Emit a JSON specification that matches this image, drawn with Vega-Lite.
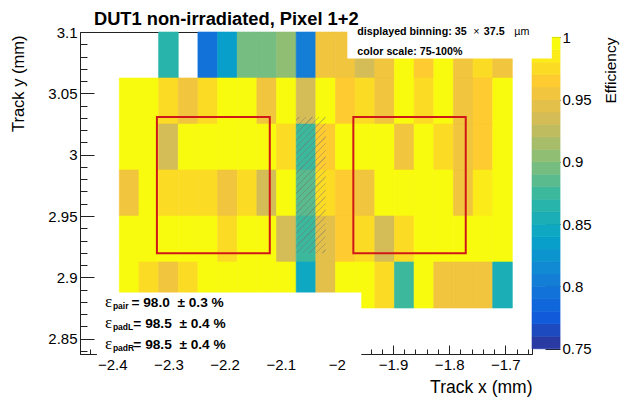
{
  "$schema": "https://vega.github.io/schema/vega-lite/v6.json",
  "width": 452,
  "height": 322,
  "autosize": {"type": "none"},
  "padding": {"left": 80, "top": 32, "right": 90, "bottom": 43},
  "background": "#ffffff",
  "config": {
    "view": {"stroke": "#222222", "strokeWidth": 1},
    "axis": {"grid": false, "labelFont": "Liberation Sans", "titleFont": "Liberation Sans", "labelColor": "#000000", "titleColor": "#000000", "tickColor": "#222222", "domainColor": "#222222", "titleFontWeight": "normal", "labelFlush": false, "labelOverlap": false}
  },
  "data": {"values": [{}]},
  "datasets": {
    "cells": [
      {"y0": 3.0625, "y1": 3.1,
       "x0": [-2.3875,-2.3525,-2.3175,-2.2825,-2.2475,-2.2125,-2.1775,-2.1425,-2.1075,-2.0725,-2.0375,-2.0025,-1.9675,-1.9325,-1.8975,-1.8625,-1.8275,-1.7925,-1.7575,-1.7225],
       "x1": [-2.3525,-2.3175,-2.2825,-2.2475,-2.2125,-2.1775,-2.1425,-2.1075,-2.0725,-2.0375,-2.0025,-1.9675,-1.9325,-1.8975,-1.8625,-1.8275,-1.7925,-1.7575,-1.7225,-1.6875],
       "e": [null, null, 0.868, null, 0.795, 0.838, 0.895, 0.893, 0.905, 0.803, 0.958, 0.958, 0.935, 0.958, 0.995, 0.965, 0.995, 0.958, 0.978, 0.952]},
      {"y0": 3.025, "y1": 3.0625,
       "x0": [-2.3875,-2.3525,-2.3175,-2.2825,-2.2475,-2.2125,-2.1775,-2.1425,-2.1075,-2.0725,-2.0375,-2.0025,-1.9675,-1.9325,-1.8975,-1.8625,-1.8275,-1.7925,-1.7575,-1.7225],
       "x1": [-2.3525,-2.3175,-2.2825,-2.2475,-2.2125,-2.1775,-2.1425,-2.1075,-2.0725,-2.0375,-2.0025,-1.9675,-1.9325,-1.8975,-1.8625,-1.8275,-1.7925,-1.7575,-1.7225,-1.6875],
       "e": [0.995, 0.995, 0.975, 0.958, 0.978, 0.995, 0.995, 0.958, 0.995, 0.935, 0.995, 0.962, 0.975, 0.958, 0.995, 0.978, 0.995, 0.958, 0.965, 0.995]},
      {"y0": 2.9875, "y1": 3.025,
       "x0": [-2.3875,-2.3525,-2.3175,-2.2825,-2.2475,-2.2125,-2.1775,-2.1425,-2.1075,-2.0725,-2.0375,-2.0025,-1.9675,-1.9325,-1.8975,-1.8625,-1.8275,-1.7925,-1.7575,-1.7225],
       "x1": [-2.3525,-2.3175,-2.2825,-2.2475,-2.2125,-2.1775,-2.1425,-2.1075,-2.0725,-2.0375,-2.0025,-1.9675,-1.9325,-1.8975,-1.8625,-1.8275,-1.7925,-1.7575,-1.7225,-1.6875],
       "e": [0.995, 0.995, 0.935, 0.995, 0.995, 0.995, 0.995, 0.995, 0.978, 0.876, 0.962, 0.995, 0.995, 0.995, 0.958, 0.995, 0.978, 0.958, 0.962, 0.995]},
      {"y0": 2.95, "y1": 2.9875,
       "x0": [-2.3875,-2.3525,-2.3175,-2.2825,-2.2475,-2.2125,-2.1775,-2.1425,-2.1075,-2.0725,-2.0375,-2.0025,-1.9675,-1.9325,-1.8975,-1.8625,-1.8275,-1.7925,-1.7575,-1.7225],
       "x1": [-2.3525,-2.3175,-2.2825,-2.2475,-2.2125,-2.1775,-2.1425,-2.1075,-2.0725,-2.0375,-2.0025,-1.9675,-1.9325,-1.8975,-1.8625,-1.8275,-1.7925,-1.7575,-1.7225,-1.6875],
       "e": [0.958, 0.995, 0.975, 0.975, 0.975, 0.958, 0.975, 0.935, 0.995, 0.882, 0.972, 0.962, 0.958, 0.995, 0.995, 0.995, 0.995, 0.958, 0.985, 0.995]},
      {"y0": 2.9125, "y1": 2.95,
       "x0": [-2.3875,-2.3525,-2.3175,-2.2825,-2.2475,-2.2125,-2.1775,-2.1425,-2.1075,-2.0725,-2.0375,-2.0025,-1.9675,-1.9325,-1.8975,-1.8625,-1.8275,-1.7925,-1.7575,-1.7225],
       "x1": [-2.3525,-2.3175,-2.2825,-2.2475,-2.2125,-2.1775,-2.1425,-2.1075,-2.0725,-2.0375,-2.0025,-1.9675,-1.9325,-1.8975,-1.8625,-1.8275,-1.7925,-1.7575,-1.7225,-1.6875],
       "e": [0.995, 0.995, 0.995, 0.995, 0.995, 0.978, 0.995, 0.995, 0.935, 0.876, 0.940, 0.962, 0.978, 0.935, 0.978, 0.995, 0.995, 0.995, 0.995, 0.995]},
      {"y0": 2.875, "y1": 2.9125,
       "x0": [-2.3875,-2.3525,-2.3175,-2.2825,-2.2475,-2.2125,-2.1775,-2.1425,-2.1075,-2.0725,-2.0375,-2.0025,-1.9675,-1.9325,-1.8975,-1.8625,-1.8275,-1.7925,-1.7575,-1.7225],
       "x1": [-2.3525,-2.3175,-2.2825,-2.2475,-2.2125,-2.1775,-2.1425,-2.1075,-2.0725,-2.0375,-2.0025,-1.9675,-1.9325,-1.8975,-1.8625,-1.8275,-1.7925,-1.7575,-1.7225,-1.6875],
       "e": [0.995, 0.978, 0.958, 0.978, 0.995, 0.995, 0.995, 0.995, 0.995, 0.845, 0.945, 0.995, 0.995, 0.978, 0.879, 0.995, 0.958, 0.958, 0.958, 0.855]}
    ],
    "pads": [
      {"pad": "left", "x0": -2.3205, "x1": -2.1195, "y0": 2.9197, "y1": 3.0308},
      {"pad": "right", "x0": -1.9707, "x1": -1.7705, "y0": 2.9197, "y1": 3.0308}
    ],
    "bar": [
      {"lo": 0.75, "hi": 0.76, "e": 0.755}, {"lo": 0.76, "hi": 0.77, "e": 0.765},
      {"lo": 0.77, "hi": 0.78, "e": 0.775}, {"lo": 0.78, "hi": 0.79, "e": 0.785},
      {"lo": 0.79, "hi": 0.80, "e": 0.795}, {"lo": 0.80, "hi": 0.81, "e": 0.805},
      {"lo": 0.81, "hi": 0.82, "e": 0.815}, {"lo": 0.82, "hi": 0.83, "e": 0.825},
      {"lo": 0.83, "hi": 0.84, "e": 0.835}, {"lo": 0.84, "hi": 0.85, "e": 0.845},
      {"lo": 0.85, "hi": 0.86, "e": 0.855}, {"lo": 0.86, "hi": 0.87, "e": 0.865},
      {"lo": 0.87, "hi": 0.88, "e": 0.875}, {"lo": 0.88, "hi": 0.89, "e": 0.885},
      {"lo": 0.89, "hi": 0.90, "e": 0.895}, {"lo": 0.90, "hi": 0.91, "e": 0.905},
      {"lo": 0.91, "hi": 0.92, "e": 0.915}, {"lo": 0.92, "hi": 0.93, "e": 0.925},
      {"lo": 0.93, "hi": 0.94, "e": 0.935}, {"lo": 0.94, "hi": 0.95, "e": 0.945},
      {"lo": 0.95, "hi": 0.96, "e": 0.955}, {"lo": 0.96, "hi": 0.97, "e": 0.965},
      {"lo": 0.97, "hi": 0.98, "e": 0.975}, {"lo": 0.98, "hi": 0.99, "e": 0.985},
      {"lo": 0.99, "hi": 1.0, "e": 0.995}
    ]
  },
  "layer": [
    {
      "layer": [
        {
          "data": {"name": "cells"},
          "transform": [{"flatten": ["x0", "x1", "e"]}, {"filter": "isValid(datum.e)"}],
          "mark": {"type": "rect", "strokeWidth": 0.6},
          "encoding": {
            "x": {"field": "x0", "type": "quantitative",
                  "scale": {"domain": [-2.4575, -1.6525], "nice": false, "zero": false},
                  "axis": {
                    "values": [-2.44,-2.42,-2.4,-2.38,-2.36,-2.34,-2.32,-2.3,-2.28,-2.26,-2.24,-2.22,-2.2,-2.18,-2.16,-2.14,-2.12,-2.1,-2.08,-2.06,-2.04,-2.02,-2,-1.98,-1.96,-1.94,-1.92,-1.9,-1.88,-1.86,-1.84,-1.82,-1.8,-1.78,-1.76,-1.74,-1.72,-1.7,-1.68,-1.66],
                    "tickCount": 200,
                    "format": "~g",
                    "labelOverlap": false,
                    "labelBound": false,
                    "labelExpr": "abs(round(datum.value*100)) % 10 === 0 ? datum.label : ''",
                    "labelFontSize": 15,
                    "tickSize": {"condition": {"test": "abs(round(datum.value*100)) % 10 === 0", "value": -9}, "value": -5},
                    "labelPadding": 12,
                    "title": "Track x (mm)",
                    "titleFontSize": 17.5,
                    "titleX": 452, "titleY": 33, "titleAlign": "right", "titleBaseline": "middle", "titleAngle": 0
                  }},
            "x2": {"field": "x1"},
            "y": {"field": "y0", "type": "quantitative",
                  "scale": {"domain": [2.8375, 3.1], "nice": false, "zero": false},
                  "axis": {
                    "orient": "left",
                    "values": [2.84,2.85,2.86,2.87,2.88,2.89,2.9,2.91,2.92,2.93,2.94,2.95,2.96,2.97,2.98,2.99,3,3.01,3.02,3.03,3.04,3.05,3.06,3.07,3.08,3.09,3.1],
                    "tickCount": 200,
                    "format": "~g",
                    "labelOverlap": false,
                    "labelBound": false,
                    "labelExpr": "round(datum.value*100) % 5 === 0 ? datum.label : ''",
                    "labelFontSize": 15,
                    "tickSize": {"condition": {"test": "round(datum.value*100) % 5 === 0", "value": -14}, "value": -7},
                    "labelPadding": 17,
                    "title": "Track y (mm)",
                    "titleFontSize": 16.5,
                    "titleAngle": -90, "titleX": -62, "titleY": 3, "titleAlign": "right", "titleBaseline": "middle"
                  }},
            "y2": {"field": "y1"},
            "color": {"field": "e", "type": "quantitative", "legend": null,
                      "scale": {"type": "quantize", "domain": [0.75, 1],
                                "range": ["#293aa3","#1d4abe","#115ada","#1066db","#1272d9","#147ed6","#1189d3","#0c94cf","#089fcb","#0ea8c2","#1baeb6","#28b4aa","#3cb89d","#59bb8e","#75bd80","#90be73","#a7bd6a","#bfbc60","#d4bc56","#e3c04a","#f1c53d","#fecb31","#fcdb25","#fbeb19","#f9fb0e"]}},
            "stroke": {"field": "e", "type": "quantitative", "legend": null,
                       "scale": {"type": "quantize", "domain": [0.75, 1],
                                 "range": ["#293aa3","#1d4abe","#115ada","#1066db","#1272d9","#147ed6","#1189d3","#0c94cf","#089fcb","#0ea8c2","#1baeb6","#28b4aa","#3cb89d","#59bb8e","#75bd80","#90be73","#a7bd6a","#bfbc60","#d4bc56","#e3c04a","#f1c53d","#fecb31","#fcdb25","#fbeb19","#f9fb0e"]}}
          }
        },
        {
          "mark": {"type": "rect",
                   "fill": {"gradient": "linear", "x1": 0, "y1": 0, "x2": 0.2551, "y2": 1.1633,
                            "stops": [
                              {"offset": 0, "color": "rgba(110,110,110,0)"},
                              {"offset": 0.015, "color": "rgba(110,110,110,0)"}, {"offset": 0.017, "color": "rgba(110,110,110,0.4)"}, {"offset": 0.023, "color": "rgba(110,110,110,0.4)"}, {"offset": 0.025, "color": "rgba(110,110,110,0)"},
                              {"offset": 0.055, "color": "rgba(110,110,110,0)"}, {"offset": 0.057, "color": "rgba(110,110,110,0.4)"}, {"offset": 0.063, "color": "rgba(110,110,110,0.4)"}, {"offset": 0.065, "color": "rgba(110,110,110,0)"},
                              {"offset": 0.095, "color": "rgba(110,110,110,0)"}, {"offset": 0.097, "color": "rgba(110,110,110,0.4)"}, {"offset": 0.103, "color": "rgba(110,110,110,0.4)"}, {"offset": 0.105, "color": "rgba(110,110,110,0)"},
                              {"offset": 0.135, "color": "rgba(110,110,110,0)"}, {"offset": 0.137, "color": "rgba(110,110,110,0.4)"}, {"offset": 0.143, "color": "rgba(110,110,110,0.4)"}, {"offset": 0.145, "color": "rgba(110,110,110,0)"},
                              {"offset": 0.175, "color": "rgba(110,110,110,0)"}, {"offset": 0.177, "color": "rgba(110,110,110,0.4)"}, {"offset": 0.183, "color": "rgba(110,110,110,0.4)"}, {"offset": 0.185, "color": "rgba(110,110,110,0)"},
                              {"offset": 0.215, "color": "rgba(110,110,110,0)"}, {"offset": 0.217, "color": "rgba(110,110,110,0.4)"}, {"offset": 0.223, "color": "rgba(110,110,110,0.4)"}, {"offset": 0.225, "color": "rgba(110,110,110,0)"},
                              {"offset": 0.255, "color": "rgba(110,110,110,0)"}, {"offset": 0.257, "color": "rgba(110,110,110,0.4)"}, {"offset": 0.263, "color": "rgba(110,110,110,0.4)"}, {"offset": 0.265, "color": "rgba(110,110,110,0)"},
                              {"offset": 0.295, "color": "rgba(110,110,110,0)"}, {"offset": 0.297, "color": "rgba(110,110,110,0.4)"}, {"offset": 0.303, "color": "rgba(110,110,110,0.4)"}, {"offset": 0.305, "color": "rgba(110,110,110,0)"},
                              {"offset": 0.335, "color": "rgba(110,110,110,0)"}, {"offset": 0.337, "color": "rgba(110,110,110,0.4)"}, {"offset": 0.343, "color": "rgba(110,110,110,0.4)"}, {"offset": 0.345, "color": "rgba(110,110,110,0)"},
                              {"offset": 0.375, "color": "rgba(110,110,110,0)"}, {"offset": 0.377, "color": "rgba(110,110,110,0.4)"}, {"offset": 0.383, "color": "rgba(110,110,110,0.4)"}, {"offset": 0.385, "color": "rgba(110,110,110,0)"},
                              {"offset": 0.415, "color": "rgba(110,110,110,0)"}, {"offset": 0.417, "color": "rgba(110,110,110,0.4)"}, {"offset": 0.423, "color": "rgba(110,110,110,0.4)"}, {"offset": 0.425, "color": "rgba(110,110,110,0)"},
                              {"offset": 0.455, "color": "rgba(110,110,110,0)"}, {"offset": 0.457, "color": "rgba(110,110,110,0.4)"}, {"offset": 0.463, "color": "rgba(110,110,110,0.4)"}, {"offset": 0.465, "color": "rgba(110,110,110,0)"},
                              {"offset": 0.495, "color": "rgba(110,110,110,0)"}, {"offset": 0.497, "color": "rgba(110,110,110,0.4)"}, {"offset": 0.503, "color": "rgba(110,110,110,0.4)"}, {"offset": 0.505, "color": "rgba(110,110,110,0)"},
                              {"offset": 0.535, "color": "rgba(110,110,110,0)"}, {"offset": 0.537, "color": "rgba(110,110,110,0.4)"}, {"offset": 0.543, "color": "rgba(110,110,110,0.4)"}, {"offset": 0.545, "color": "rgba(110,110,110,0)"},
                              {"offset": 0.575, "color": "rgba(110,110,110,0)"}, {"offset": 0.577, "color": "rgba(110,110,110,0.4)"}, {"offset": 0.583, "color": "rgba(110,110,110,0.4)"}, {"offset": 0.585, "color": "rgba(110,110,110,0)"},
                              {"offset": 0.615, "color": "rgba(110,110,110,0)"}, {"offset": 0.617, "color": "rgba(110,110,110,0.4)"}, {"offset": 0.623, "color": "rgba(110,110,110,0.4)"}, {"offset": 0.625, "color": "rgba(110,110,110,0)"},
                              {"offset": 0.655, "color": "rgba(110,110,110,0)"}, {"offset": 0.657, "color": "rgba(110,110,110,0.4)"}, {"offset": 0.663, "color": "rgba(110,110,110,0.4)"}, {"offset": 0.665, "color": "rgba(110,110,110,0)"},
                              {"offset": 0.695, "color": "rgba(110,110,110,0)"}, {"offset": 0.697, "color": "rgba(110,110,110,0.4)"}, {"offset": 0.703, "color": "rgba(110,110,110,0.4)"}, {"offset": 0.705, "color": "rgba(110,110,110,0)"},
                              {"offset": 0.735, "color": "rgba(110,110,110,0)"}, {"offset": 0.737, "color": "rgba(110,110,110,0.4)"}, {"offset": 0.743, "color": "rgba(110,110,110,0.4)"}, {"offset": 0.745, "color": "rgba(110,110,110,0)"},
                              {"offset": 0.775, "color": "rgba(110,110,110,0)"}, {"offset": 0.777, "color": "rgba(110,110,110,0.4)"}, {"offset": 0.783, "color": "rgba(110,110,110,0.4)"}, {"offset": 0.785, "color": "rgba(110,110,110,0)"},
                              {"offset": 0.815, "color": "rgba(110,110,110,0)"}, {"offset": 0.817, "color": "rgba(110,110,110,0.4)"}, {"offset": 0.823, "color": "rgba(110,110,110,0.4)"}, {"offset": 0.825, "color": "rgba(110,110,110,0)"},
                              {"offset": 0.855, "color": "rgba(110,110,110,0)"}, {"offset": 0.857, "color": "rgba(110,110,110,0.4)"}, {"offset": 0.863, "color": "rgba(110,110,110,0.4)"}, {"offset": 0.865, "color": "rgba(110,110,110,0)"},
                              {"offset": 0.895, "color": "rgba(110,110,110,0)"}, {"offset": 0.897, "color": "rgba(110,110,110,0.4)"}, {"offset": 0.903, "color": "rgba(110,110,110,0.4)"}, {"offset": 0.905, "color": "rgba(110,110,110,0)"},
                              {"offset": 0.935, "color": "rgba(110,110,110,0)"}, {"offset": 0.937, "color": "rgba(110,110,110,0.4)"}, {"offset": 0.943, "color": "rgba(110,110,110,0.4)"}, {"offset": 0.945, "color": "rgba(110,110,110,0)"},
                              {"offset": 0.975, "color": "rgba(110,110,110,0)"}, {"offset": 0.977, "color": "rgba(110,110,110,0.4)"}, {"offset": 0.983, "color": "rgba(110,110,110,0.4)"}, {"offset": 0.985, "color": "rgba(110,110,110,0)"},
                              {"offset": 1, "color": "rgba(110,110,110,0)"}
                            ]}},
          "encoding": {
            "x": {"datum": -2.0725, "type": "quantitative"},
            "x2": {"datum": -2.0200},
            "y": {"datum": 2.9197, "type": "quantitative"},
            "y2": {"datum": 3.0308}
          }
        },
        {
          "data": {"name": "pads"},
          "mark": {"type": "rect", "filled": false, "color": "#d01818", "strokeWidth": 2},
          "encoding": {
            "x": {"field": "x0", "type": "quantitative"},
            "x2": {"field": "x1"},
            "y": {"field": "y0", "type": "quantitative"},
            "y2": {"field": "y1"}
          }
        }
      ]
    },
    {
      "data": {"name": "bar"},
      "mark": {"type": "rect", "strokeWidth": 0.6},
      "encoding": {
        "x": {"datum": -1.6525, "type": "quantitative"},
        "x2": {"datum": -1.6025},
        "y": {"field": "lo", "type": "quantitative",
              "scale": {"domain": [0.7458, 1.0042], "nice": false, "zero": false},
              "axis": {
                "orient": "right", "offset": 28, "domain": false,
                "values": [0.75, 0.8, 0.85, 0.9, 0.95, 1],
                "tickCount": 200,
                "format": "~g",
                "labelOverlap": false,
                "labelBound": false,
                "tickSize": -15, "labelPadding": 17, "labelFontSize": 15,
                "title": "Efficiency", "titleFontSize": 15.5,
                "titleAngle": -90, "titleX": 50, "titleY": 5, "titleAlign": "right", "titleBaseline": "middle"
              }},
        "y2": {"field": "hi"},
        "color": {"field": "e", "type": "quantitative", "legend": null,
                  "scale": {"type": "quantize", "domain": [0.75, 1],
                            "range": ["#293aa3","#1d4abe","#115ada","#1066db","#1272d9","#147ed6","#1189d3","#0c94cf","#089fcb","#0ea8c2","#1baeb6","#28b4aa","#3cb89d","#59bb8e","#75bd80","#90be73","#a7bd6a","#bfbc60","#d4bc56","#e3c04a","#f1c53d","#fecb31","#fcdb25","#fbeb19","#f9fb0e"]}},
        "stroke": {"field": "e", "type": "quantitative", "legend": null,
                   "scale": {"type": "quantize", "domain": [0.75, 1],
                             "range": ["#293aa3","#1d4abe","#115ada","#1066db","#1272d9","#147ed6","#1189d3","#0c94cf","#089fcb","#0ea8c2","#1baeb6","#28b4aa","#3cb89d","#59bb8e","#75bd80","#90be73","#a7bd6a","#bfbc60","#d4bc56","#e3c04a","#f1c53d","#fecb31","#fcdb25","#fbeb19","#f9fb0e"]}}
      }
    },
    {
      "layer": [
        {
          "mark": {"type": "rect", "color": "#ffffff"},
          "encoding": {
            "x": {"datum": -2.4273, "type": "quantitative"},
            "x2": {"datum": -1.9565},
            "y": {"datum": 2.8350, "type": "quantitative", "scale": {"domain": [2.8375, 3.1], "nice": false, "zero": false}, "axis": null},
            "y2": {"datum": 2.8877}
          }
        },
        {
          "mark": {"type": "rect", "color": "#ffffff"},
          "encoding": {
            "x": {"datum": -1.9814, "type": "quantitative"},
            "x2": {"datum": -1.6172},
            "y": {"datum": 3.0783, "type": "quantitative"},
            "y2": {"datum": 3.104}
          }
        },
        {
          "mark": {"type": "text", "text": "DUT1 non-irradiated, Pixel 1+2", "align": "left", "baseline": "alphabetic", "font": "Liberation Sans", "fontWeight": "bold", "fontSize": 18.3, "color": "#000000"},
          "encoding": {"x": {"datum": -2.4327, "type": "quantitative"}, "y": {"datum": 3.1059, "type": "quantitative"}}
        },
        {
          "mark": {"type": "text", "text": "displayed binning: 35", "align": "left", "baseline": "alphabetic", "font": "Liberation Sans", "fontWeight": "bold", "fontSize": 10.7, "color": "#000000"},
          "encoding": {"x": {"datum": -1.9636, "type": "quantitative"}, "y": {"datum": 3.0974, "type": "quantitative"}}
        },
        {
          "mark": {"type": "text", "text": "×", "align": "left", "baseline": "alphabetic", "dx": 116, "font": "Liberation Sans", "fontSize": 10.7, "color": "#000000"},
          "encoding": {"x": {"datum": -1.9636, "type": "quantitative"}, "y": {"datum": 3.0974, "type": "quantitative"}}
        },
        {
          "mark": {"type": "text", "text": "37.5", "align": "left", "baseline": "alphabetic", "dx": 126.5, "font": "Liberation Sans", "fontWeight": "bold", "fontSize": 10.7, "color": "#000000"},
          "encoding": {"x": {"datum": -1.9636, "type": "quantitative"}, "y": {"datum": 3.0974, "type": "quantitative"}}
        },
        {
          "mark": {"type": "text", "text": "µm", "align": "left", "baseline": "alphabetic", "dx": 157, "font": "Liberation Sans", "fontSize": 10.7, "color": "#000000"},
          "encoding": {"x": {"datum": -1.9636, "type": "quantitative"}, "y": {"datum": 3.0974, "type": "quantitative"}}
        },
        {
          "mark": {"type": "text", "text": "color scale: 75-100%", "align": "left", "baseline": "alphabetic", "font": "Liberation Sans", "fontWeight": "bold", "fontSize": 10.7, "color": "#000000"},
          "encoding": {"x": {"datum": -1.9636, "type": "quantitative"}, "y": {"datum": 3.0809, "type": "quantitative"}}
        },
        {
          "mark": {"type": "text", "text": ["ε", "ε", "ε"], "lineHeight": 21, "align": "left", "baseline": "alphabetic", "font": "Liberation Serif", "fontSize": 17, "color": "#000000"},
          "encoding": {"x": {"datum": -2.4131, "type": "quantitative"}, "y": {"datum": 2.8758, "type": "quantitative"}}
        },
        {
          "mark": {"type": "text", "text": ["pair", "padL", "padR"], "lineHeight": 21, "align": "left", "baseline": "alphabetic", "font": "Liberation Sans", "fontWeight": "bold", "fontSize": 8.5, "color": "#000000"},
          "encoding": {"x": {"datum": -2.3989, "type": "quantitative"}, "y": {"datum": 2.8741, "type": "quantitative"}}
        },
        {
          "mark": {"type": "text", "text": "= 98.0 \u00a0± 0.3 %", "align": "left", "baseline": "alphabetic", "font": "Liberation Sans", "fontWeight": "bold", "fontSize": 13.7, "color": "#000000"},
          "encoding": {"x": {"datum": -2.3660, "type": "quantitative"}, "y": {"datum": 2.8758, "type": "quantitative"}}
        },
        {
          "mark": {"type": "text", "text": ["= 98.5 \u00a0± 0.4 %", "= 98.5 \u00a0± 0.4 %"], "lineHeight": 21, "align": "left", "baseline": "alphabetic", "font": "Liberation Sans", "fontWeight": "bold", "fontSize": 13.7, "color": "#000000"},
          "encoding": {"x": {"datum": -2.3625, "type": "quantitative"}, "y": {"datum": 2.8587, "type": "quantitative"}}
        }
      ]
    }
  ],
  "resolve": {"scale": {"y": "independent"}, "axis": {"y": "independent"}}
}
